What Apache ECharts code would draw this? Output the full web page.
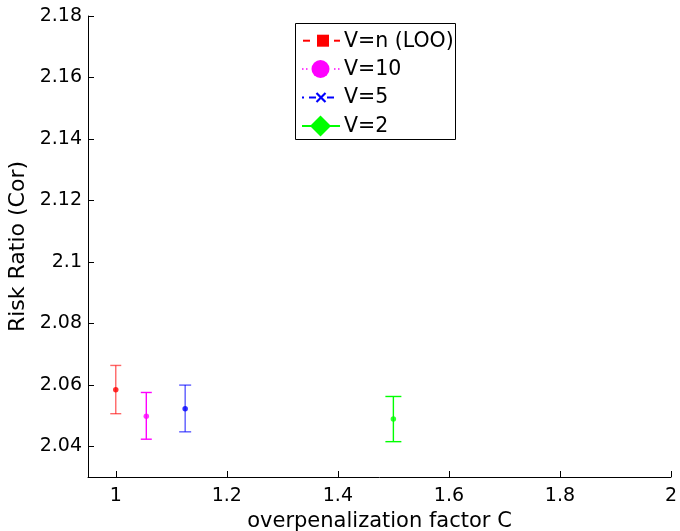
<!DOCTYPE html>
<html>
<head>
<meta charset="utf-8">
<script src="https://cdn.jsdelivr.net/npm/echarts@6/dist/echarts.min.js"></script>
<style>
html,body{margin:0;padding:0;background:#fff;}
#chart{width:680px;height:531px;}
</style>
</head>
<body>
<div id="chart"></div>
<script>
// ---- data ----
const seriesNames = ['V=n (LOO)', 'V=10', 'V=5', 'V=2'];
const xValues = [1, 1.055, 1.125, 1.5];
const means = [2.0584, 2.0498, 2.0522, 2.0489];
const lowerVals = [2.0506, 2.0423, 2.0447, 2.0415];
const upperVals = [2.0663, 2.0575, 2.0599, 2.0562];
const xTicks = [1, 1.2, 1.4, 1.6, 1.8, 2];
const yTicks = [2.04, 2.06, 2.08, 2.1, 2.12, 2.14, 2.16, 2.18];

// ---- styles ----
const colors = ['#ff0000', '#ff00ff', '#0000ff', '#00ff00'];
const barColors = ['rgba(255,0,0,0.6)', '#ff00ff', 'rgba(0,0,255,0.65)', '#00ff00'];
const capHalf = [5.5, 5.5, 6, 8];
const FONT = 'DejaVu Sans, Liberation Sans, Arial, sans-serif';
const FS = 19;

const chart = echarts.init(document.getElementById('chart'), null, {renderer: 'canvas'});

const errData = xValues.map((x, i) => [x, lowerVals[i], upperVals[i], i]);
const ptData = xValues.map((x, i) => [x, means[i]]);

function fmt(v) {
  return String(parseFloat(v.toFixed(4)));
}

// legend drawn as graphic
const LX = 295, LY = 23.5, LW = 160, LH = 116;
const rowY = [40.7, 69, 97.5, 126];
const lg = [];
lg.push({type: 'rect', shape: {x: LX + 0.5, y: LY, width: LW, height: LH},
  style: {fill: '#fff', stroke: '#000', lineWidth: 1}, z: 100});
// row 1: red dashed + square
lg.push({type: 'line', shape: {x1: 303, y1: rowY[0], x2: 310, y2: rowY[0]}, style: {stroke: colors[0], lineWidth: 2}, z: 101});
lg.push({type: 'line', shape: {x1: 334, y1: rowY[0], x2: 340, y2: rowY[0]}, style: {stroke: colors[0], lineWidth: 2}, z: 101});
lg.push({type: 'rect', shape: {x: 317, y: rowY[0] - 6, width: 12, height: 12}, style: {fill: colors[0]}, z: 101});
// row 2: magenta dotted + circle
[302, 306, 334, 338].forEach(x => lg.push({type: 'rect', shape: {x: x, y: rowY[1] - 0.75, width: 1.5, height: 1.5}, style: {fill: colors[1]}, z: 101}));
lg.push({type: 'circle', shape: {cx: 320.5, cy: rowY[1], r: 9}, style: {fill: colors[1]}, z: 101});
// row 3: blue dash-dot + x
lg.push({type: 'rect', shape: {x: 302, y: rowY[2] - 1, width: 2, height: 2}, style: {fill: colors[2]}, z: 101});
lg.push({type: 'line', shape: {x1: 309, y1: rowY[2], x2: 316, y2: rowY[2]}, style: {stroke: colors[2], lineWidth: 2}, z: 101});
lg.push({type: 'line', shape: {x1: 327, y1: rowY[2], x2: 334, y2: rowY[2]}, style: {stroke: colors[2], lineWidth: 2}, z: 101});
lg.push({type: 'line', shape: {x1: 316.5, y1: rowY[2] - 4.5, x2: 325.5, y2: rowY[2] + 4.5}, style: {stroke: colors[2], lineWidth: 2.2}, z: 101});
lg.push({type: 'line', shape: {x1: 316.5, y1: rowY[2] + 4.5, x2: 325.5, y2: rowY[2] - 4.5}, style: {stroke: colors[2], lineWidth: 2.2}, z: 101});
// row 4: green solid + diamond
lg.push({type: 'line', shape: {x1: 302, y1: rowY[3], x2: 340, y2: rowY[3]}, style: {stroke: colors[3], lineWidth: 2}, z: 101});
lg.push({type: 'polygon', shape: {points: [[320.5, rowY[3] - 10.5], [331, rowY[3]], [320.5, rowY[3] + 10.5], [310, rowY[3]]]}, style: {fill: colors[3]}, z: 101});
seriesNames.forEach((n, i) => {
  lg.push({type: 'text', x: 344, y: rowY[i] + 0.5, style: {text: n, fontFamily: FONT, fontSize: 20.5, fill: '#000', verticalAlign: 'middle', align: 'left'}, z: 101});
});

const option = {
  animation: false,
  backgroundColor: '#fff',
  grid: {left: 88, right: 9, top: 16, bottom: 54, containLabel: false, outerBoundsMode: 'none'},
  xAxis: {
    type: 'value', min: 0.95, max: 2,
    name: 'overpenalization factor C', nameLocation: 'middle', nameGap: 31,
    nameTextStyle: {fontFamily: FONT, fontSize: 21, color: '#000'},
    axisLine: {show: true, lineStyle: {color: '#000', width: 1}},
    axisTick: {show: true, inside: true, length: 6, customValues: xTicks, lineStyle: {color: '#000'}},
    axisLabel: {customValues: xTicks, formatter: fmt, fontFamily: FONT, fontSize: FS, color: '#000', margin: 10},
    splitLine: {show: false}
  },
  yAxis: {
    type: 'value', min: 2.03, max: 2.18,
    name: 'Risk Ratio (Cor)', nameLocation: 'middle', nameGap: 57,
    nameTextStyle: {fontFamily: FONT, fontSize: 22, color: '#000'},
    axisLine: {show: true, lineStyle: {color: '#000', width: 1}},
    axisTick: {show: true, inside: true, length: 6, customValues: yTicks, lineStyle: {color: '#000'}},
    axisLabel: {customValues: yTicks, formatter: fmt, fontFamily: FONT, fontSize: FS, color: '#000', margin: 6},
    splitLine: {show: false}
  },
  graphic: lg,
  series: [
    {
      type: 'custom',
      data: errData,
      renderItem: function (params, api) {
        const x = api.value(0), lo = api.value(1), hi = api.value(2), idx = api.value(3);
        const pLo = api.coord([x, lo]);
        const pHi = api.coord([x, hi]);
        const c = barColors[idx];
        const h = capHalf[idx];
        return {
          type: 'group',
          children: [
            {type: 'line', shape: {x1: pLo[0], y1: pLo[1], x2: pHi[0], y2: pHi[1]}, style: {stroke: c, lineWidth: 1.4}},
            {type: 'line', shape: {x1: pLo[0] - h, y1: pLo[1], x2: pLo[0] + h, y2: pLo[1]}, style: {stroke: c, lineWidth: 1.4}},
            {type: 'line', shape: {x1: pHi[0] - h, y1: pHi[1], x2: pHi[0] + h, y2: pHi[1]}, style: {stroke: c, lineWidth: 1.4}}
          ]
        };
      },
      z: 2
    },
    {
      type: 'scatter',
      data: ptData,
      symbol: 'circle',
      symbolSize: 5.5,
      itemStyle: {color: function (p) { return colors[p.dataIndex]; }},
      z: 3
    }
  ]
};
chart.setOption(option);
</script>
</body>
</html>
